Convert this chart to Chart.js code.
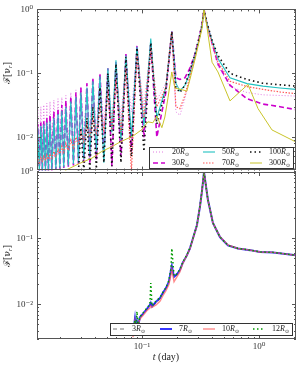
<!DOCTYPE html>
<html>
<head>
<meta charset="utf-8">
<script src="https://cdn.jsdelivr.net/npm/chart.js@4.4.1/dist/chart.umd.min.js"></script>
<style>
  html, body { margin: 0; padding: 0; background: #fff; }
  #wrap { position: relative; width: 299px; height: 371px; background: #fff; }
  #topChart { position: absolute; left: 0; top: 0; }
  #botChart { position: absolute; left: 0; top: 160px; }
</style>
</head>
<body>
<div id="wrap">
  <canvas id="botChart" width="299" height="211"></canvas>
  <canvas id="topChart" width="299" height="180"></canvas>
</div>
<script>
// Axis ranges
const xMin = 0.0127, xMax = 2.07;
const yMin = 0.003, yMax = 1;

// Top panel: shared time grid (day) for the oscillating runs
const tTop = [0.0127, 0.0129, 0.0133, 0.0137, 0.0141, 0.0145, 0.0150, 0.0154, 0.0159, 0.0164,
  0.0170, 0.0177, 0.0184, 0.0192, 0.0199, 0.0207, 0.0215, 0.0224, 0.0235, 0.0247,
  0.0260, 0.0273, 0.0287, 0.0301, 0.0319, 0.0339, 0.0359, 0.0381, 0.0408, 0.0438,
  0.0473, 0.0512, 0.0554, 0.0600, 0.0662, 0.0730, 0.0813, 0.0907, 0.104, 0.119,
  0.134, 0.160, 0.180, 0.195, 0.211, 0.233, 0.257, 0.284, 0.307, 0.326,
  0.339, 0.359, 0.397, 0.446, 0.565, 0.790, 1.08, 1.51, 2.07];

const f20 = [0.010, 0.028, 0.0045, 0.030, 0.0045, 0.032, 0.0046, 0.034, 0.0048, 0.036,
  0.005, 0.038, 0.0052, 0.040, 0.0055, 0.042, 0.006, 0.045, 0.0065, 0.050,
  0.007, 0.055, 0.008, 0.060, 0.009, 0.070, 0.010, 0.080, 0.012, 0.10,
  0.015, 0.11, 0.018, 0.12, 0.020, 0.15, 0.025, 0.22, 0.030, 0.28,
  0.038, 0.07, 0.45, 0.025, 0.022, 0.04, 0.085, 0.17, 0.32, 0.55,
  1.0, 0.58, 0.28, 0.13, 0.062, 0.05, 0.046, 0.045, 0.044];

const f30 = [0.006, 0.016, 0.0029, 0.017, 0.0029, 0.018, 0.0029, 0.020, 0.0029, 0.022,
  0.003, 0.025, 0.0031, 0.028, 0.0032, 0.032, 0.0033, 0.037, 0.0034, 0.043,
  0.0036, 0.050, 0.0038, 0.060, 0.004, 0.070, 0.004, 0.085, 0.0045, 0.10,
  0.005, 0.12, 0.0035, 0.15, 0.005, 0.20, 0.006, 0.27, 0.010, 0.30,
  0.010, 0.05, 0.45, 0.085, 0.08, 0.085, 0.12, 0.20, 0.35, 0.58,
  1.0, 0.6, 0.3, 0.14, 0.065, 0.04, 0.033, 0.03, 0.027];

const f50 = [0.005, 0.014, 0.0029, 0.015, 0.0029, 0.016, 0.0029, 0.017, 0.003, 0.018,
  0.0031, 0.020, 0.0032, 0.023, 0.0033, 0.026, 0.0034, 0.030, 0.0036, 0.036,
  0.0038, 0.042, 0.004, 0.050, 0.0045, 0.060, 0.005, 0.075, 0.006, 0.09,
  0.004, 0.12, 0.012, 0.16, 0.009, 0.19, 0.010, 0.26, 0.015, 0.35,
  0.020, 0.06, 0.45, 0.07, 0.053, 0.065, 0.10, 0.19, 0.33, 0.55,
  1.0, 0.6, 0.32, 0.17, 0.085, 0.069, 0.063, 0.059, 0.056];

const f70 = [0.0042, 0.0046, 0.004, 0.0048, 0.0042, 0.005, 0.0043, 0.0052, 0.0045, 0.0055,
  0.0047, 0.006, 0.005, 0.0065, 0.0055, 0.0072, 0.0058, 0.008, 0.0062, 0.009,
  0.0068, 0.010, 0.0075, 0.012, 0.0085, 0.016, 0.010, 0.020, 0.011, 0.030,
  0.012, 0.050, 0.013, 0.08, 0.012, 0.12, 0.0029, 0.20, 0.020, 0.25,
  0.030, 0.06, 0.45, 0.03, 0.028, 0.045, 0.09, 0.18, 0.33, 0.55,
  1.0, 0.58, 0.30, 0.15, 0.075, 0.062, 0.056, 0.051, 0.048];

const f100 = [null, null, null, null, null, null, null, null, null, null,
  null, null, null, null, null, null, null, null, null, null,
  null, null, 0.0029, 0.014, 0.003, 0.020, 0.003, 0.030, 0.0032, 0.06,
  0.004, 0.10, 0.0035, 0.14, 0.004, 0.18, 0.005, 0.25, 0.006, 0.30,
  0.016, 0.055, 0.45, 0.06, 0.05, 0.065, 0.11, 0.20, 0.35, 0.58,
  1.0, 0.62, 0.33, 0.19, 0.10, 0.08, 0.07, 0.066, 0.063];

const t300 = [0.0220, 0.0295, 0.0374, 0.0455, 0.0554, 0.0649, 0.0838, 0.100, 0.1125, 0.124,
  0.134, 0.148, 0.157, 0.167, 0.180, 0.191, 0.211, 0.242, 0.257, 0.284,
  0.326, 0.339, 0.359, 0.397, 0.446, 0.565, 0.805, 0.981, 1.29, 2.07];
const f300 = [0.003, 0.0039, 0.0047, 0.0060, 0.0071, 0.0084, 0.0104, 0.0132, 0.0174, 0.0168,
  0.0214, 0.0141, 0.0207, 0.0414, 0.105, 0.0585, 0.0565, 0.0527, 0.080, 0.165,
  0.50, 1.0, 0.536, 0.149, 0.105, 0.037, 0.067, 0.028, 0.013, 0.0084];

// Bottom panel
const tBot = [0.0838, 0.0871, 0.0889, 0.0907, 0.0924, 0.0961, 0.102, 0.110, 0.117, 0.119,
  0.122, 0.132, 0.143, 0.151, 0.160, 0.170, 0.177, 0.180, 0.188, 0.199,
  0.211, 0.224, 0.242, 0.257, 0.273, 0.295, 0.313, 0.326, 0.339, 0.366,
  0.404, 0.464, 0.543, 0.661, 0.838, 1.02, 1.32, 2.07];
const f3 = [0.0034, 0.0058, 0.0041, 0.0054, 0.0046, 0.0063, 0.0071, 0.0084, 0.0096, 0.0102,
  0.0092, 0.0108, 0.0123, 0.0148, 0.0172, 0.0215, 0.032, 0.037, 0.026, 0.028,
  0.033, 0.043, 0.055, 0.07, 0.10, 0.156, 0.30, 0.52, 1.0, 0.38,
  0.17, 0.104, 0.078, 0.07, 0.066, 0.062, 0.061, 0.055];
const f7 = [0.0035, 0.006, 0.004, 0.0055, 0.0045, 0.0064, 0.0072, 0.0085, 0.0098, 0.0105,
  0.0093, 0.011, 0.0125, 0.015, 0.0175, 0.022, 0.033, 0.038, 0.026, 0.0285,
  0.033, 0.043, 0.055, 0.07, 0.10, 0.157, 0.30, 0.52, 1.0, 0.38,
  0.17, 0.104, 0.078, 0.07, 0.066, 0.062, 0.061, 0.055];
const f10 = [0.0032, 0.0055, 0.0042, 0.005, 0.0048, 0.006, 0.0068, 0.008, 0.0088, 0.0095,
  0.009, 0.0098, 0.0112, 0.0135, 0.016, 0.020, 0.028, 0.034, 0.022, 0.026,
  0.031, 0.042, 0.055, 0.069, 0.098, 0.155, 0.30, 0.52, 1.0, 0.38,
  0.17, 0.105, 0.079, 0.07, 0.066, 0.062, 0.061, 0.055];
const f12 = [0.0035, 0.0058, 0.0045, 0.0078, 0.0046, 0.0065, 0.0074, 0.0088, 0.010, 0.021,
  0.0095, 0.0112, 0.0128, 0.0152, 0.0178, 0.023, 0.035, 0.070, 0.027, 0.029,
  0.034, 0.044, 0.056, 0.071, 0.10, 0.158, 0.30, 0.53, 1.0, 0.38,
  0.17, 0.104, 0.078, 0.07, 0.066, 0.062, 0.061, 0.055];

const serif = '"Liberation Serif", "DejaVu Serif", serif';
Chart.defaults.font.family = serif;

function pts(ts, fs) {
    return ts.map((t, i) => ({ x: t, y: fs[i] }));
}

function line(label, ts, fs, color, width, dash, order) {
    return {
        label: label,
        data: pts(ts, fs),
        borderColor: color,
        borderWidth: width,
        borderDash: dash,
        pointRadius: 0,
        fill: false,
        tension: 0,
        order: order,
    };
}

// 10^n labels on decades only
function decadeLabel(v) {
    const e = Math.log10(v);
    if (Math.abs(e - Math.round(e)) > 1e-6) return '';
    const sup = { '-': '\u207b', '0': '\u2070', '1': '\u00b9', '2': '\u00b2', '3': '\u00b3' };
    return '10' + String(Math.round(e)).split('').map((c) => sup[c]).join('');
}

function logTicks(min, max) {
    const out = [];
    for (let e = Math.floor(Math.log10(min)); e <= Math.ceil(Math.log10(max)); e++) {
        for (let m = 1; m < 10; m++) {
            const v = m * Math.pow(10, e);
            if (v >= min * 0.999 && v <= max * 1.001) out.push({ v: v, major: m === 1 });
        }
    }
    return out;
}

// Box and inward ticks on all four sides
const framePlugin = {
    id: 'frame',
    afterDatasetsDraw(chart) {
        const { ctx, chartArea: a, scales } = chart;
        ctx.save();
        ctx.strokeStyle = '#555';
        ctx.lineWidth = 1;
        ctx.beginPath();
        logTicks(scales.x.min, scales.x.max).forEach((tk) => {
            const px = Math.round(scales.x.getPixelForValue(tk.v)) + 0.5;
            const len = tk.major ? 4 : 2;
            ctx.moveTo(px, a.bottom); ctx.lineTo(px, a.bottom - len);
            ctx.moveTo(px, a.top); ctx.lineTo(px, a.top + len);
        });
        logTicks(scales.y.min, scales.y.max).forEach((tk) => {
            const py = Math.round(scales.y.getPixelForValue(tk.v)) + 0.5;
            const len = tk.major ? 4 : 2;
            ctx.moveTo(a.left, py); ctx.lineTo(a.left + len, py);
            ctx.moveTo(a.right, py); ctx.lineTo(a.right - len, py);
        });
        ctx.stroke();
        ctx.strokeRect(Math.round(a.left) + 0.5, Math.round(a.top) + 0.5,
            Math.round(a.width) - 1, Math.round(a.height) - 1);
        ctx.restore();
    },
};

function drawRLabel(ctx, n, x, y) {
    ctx.fillStyle = '#222';
    ctx.textBaseline = 'middle';
    ctx.textAlign = 'left';
    ctx.font = '8px ' + serif;
    ctx.fillText(n, x, y);
    let w = ctx.measureText(n).width;
    ctx.font = 'italic 8px ' + serif;
    ctx.fillText('R', x + w, y);
    w += ctx.measureText('R').width;
    ctx.font = '5px "DejaVu Sans"';
    ctx.fillText('\u2299', x + w, y + 2.5);
}

function legendPlugin(box, items) {
    return {
        id: 'boxLegend',
        afterDraw(chart) {
            const ctx = chart.ctx;
            ctx.save();
            ctx.fillStyle = '#fff';
            ctx.fillRect(box.x, box.y, box.w, box.h);
            ctx.strokeStyle = '#333';
            ctx.lineWidth = 1;
            ctx.strokeRect(box.x + 0.5, box.y + 0.5, box.w, box.h);
            items.forEach((it) => {
                const ds = chart.data.datasets[it.ds];
                ctx.strokeStyle = ds.borderColor;
                ctx.lineWidth = ds.borderWidth;
                ctx.setLineDash(ds.borderDash || []);
                ctx.beginPath();
                ctx.moveTo(it.x, it.y);
                ctx.lineTo(it.x + 12, it.y);
                ctx.stroke();
                ctx.setLineDash([]);
                drawRLabel(ctx, it.n, it.x + 19, it.y);
            });
            ctx.restore();
        },
    };
}

// Axis titles drawn from text pieces
function drawPieces(ctx, pieces, cx, cy, rot) {
    ctx.save();
    ctx.translate(cx, cy);
    ctx.rotate(rot);
    ctx.fillStyle = '#222';
    ctx.textBaseline = 'middle';
    ctx.textAlign = 'left';
    let total = 0;
    pieces.forEach((p) => { ctx.font = p.font; total += ctx.measureText(p.text).width; });
    let x = -total / 2;
    pieces.forEach((p) => {
        ctx.font = p.font;
        ctx.fillText(p.text, x, p.dy || 0);
        x += ctx.measureText(p.text).width;
    });
    ctx.restore();
}

const yTitle = [
    { text: '\u2131[\u03bd', font: '9px "DejaVu Serif"' },
    { text: 'r', font: 'italic 6px ' + serif, dy: 2 },
    { text: ']', font: '9px "DejaVu Serif"' },
];

function titlePlugin(list) {
    return {
        id: 'titles',
        afterDraw(chart) {
            list.forEach((t) => drawPieces(chart.ctx, t.pieces, t.x, t.y, t.rot));
        },
    };
}

const yAxis = {
    type: 'logarithmic',
    min: yMin,
    max: yMax,
    grid: { display: false, drawTicks: false },
    border: { display: false },
    ticks: { autoSkip: false, padding: 4, color: '#333', font: { size: 9 }, callback: decadeLabel },
    afterFit: (s) => { s.width = 37; },
};

// Top panel
new Chart(document.getElementById('topChart'), {
    type: 'line',
    data: {
        datasets: [
            line('20R', tTop, f20, '#e27ae2', 1, [1, 2], 6),
            line('30R', tTop, f30, '#cc00cc', 1.6, [5, 3], 5),
            line('50R', tTop, f50, '#22c2c2', 1.1, [], 4),
            line('70R', tTop, f70, '#ff5a5a', 1.2, [1.5, 1.5], 3),
            line('100R', tTop, f100, '#111111', 1.6, [1.5, 3], 2),
            line('300R', t300, f300, '#c9c42a', 1, [], 1),
        ],
    },
    options: {
        responsive: false,
        animation: false,
        devicePixelRatio: 1,
        layout: { padding: { top: 5, right: 3, bottom: 8, left: 0 } },
        plugins: { legend: { display: false }, tooltip: { enabled: false } },
        scales: {
            x: { type: 'logarithmic', min: xMin, max: xMax, display: false },
            y: yAxis,
        },
    },
    plugins: [
        framePlugin,
        legendPlugin({ x: 149, y: 147, w: 144, h: 21 }, [
            { ds: 0, n: '20', x: 153, y: 152 },
            { ds: 1, n: '30', x: 153, y: 163 },
            { ds: 2, n: '50', x: 203, y: 152 },
            { ds: 3, n: '70', x: 203, y: 163 },
            { ds: 4, n: '100', x: 250, y: 152 },
            { ds: 5, n: '300', x: 250, y: 163 },
        ]),
        titlePlugin([{ pieces: yTitle, x: 8, y: 73, rot: -Math.PI / 2 }]),
    ],
});

// Bottom panel
new Chart(document.getElementById('botChart'), {
    type: 'line',
    data: {
        datasets: [
            line('3R', tBot, f3, '#777777', 1.2, [4, 3], 4),
            line('7R', tBot, f7, 'rgba(20,20,255,0.85)', 2, [], 3),
            line('10R', tBot, f10, 'rgba(255,90,90,0.7)', 1.4, [], 2),
            line('12R', tBot, f12, '#009a00', 1.5, [1.5, 2.5], 1),
        ],
    },
    options: {
        responsive: false,
        animation: false,
        devicePixelRatio: 1,
        layout: { padding: { top: 12, right: 3, bottom: 0, left: 0 } },
        plugins: { legend: { display: false }, tooltip: { enabled: false } },
        scales: {
            x: {
                type: 'logarithmic',
                min: xMin,
                max: xMax,
                grid: { display: false, drawTicks: false },
                border: { display: false },
                ticks: { autoSkip: false, maxRotation: 0, padding: 2, color: '#333', font: { size: 9 }, callback: decadeLabel },
                afterFit: (s) => { s.height = 32; },
            },
            y: yAxis,
        },
    },
    plugins: [
        framePlugin,
        legendPlugin({ x: 110, y: 163, w: 182, h: 12 }, [
            { ds: 0, n: '3', x: 113, y: 169 },
            { ds: 1, n: '7', x: 160, y: 169 },
            { ds: 2, n: '10', x: 203, y: 169 },
            { ds: 3, n: '12', x: 253, y: 169 },
        ]),
        titlePlugin([
            { pieces: yTitle, x: 8, y: 96, rot: -Math.PI / 2 },
            { pieces: [
                { text: 't', font: 'italic 10px ' + serif },
                { text: ' (day)', font: '10px ' + serif },
            ], x: 166, y: 197, rot: 0 },
        ]),
    ],
});
</script>
</body>
</html>
